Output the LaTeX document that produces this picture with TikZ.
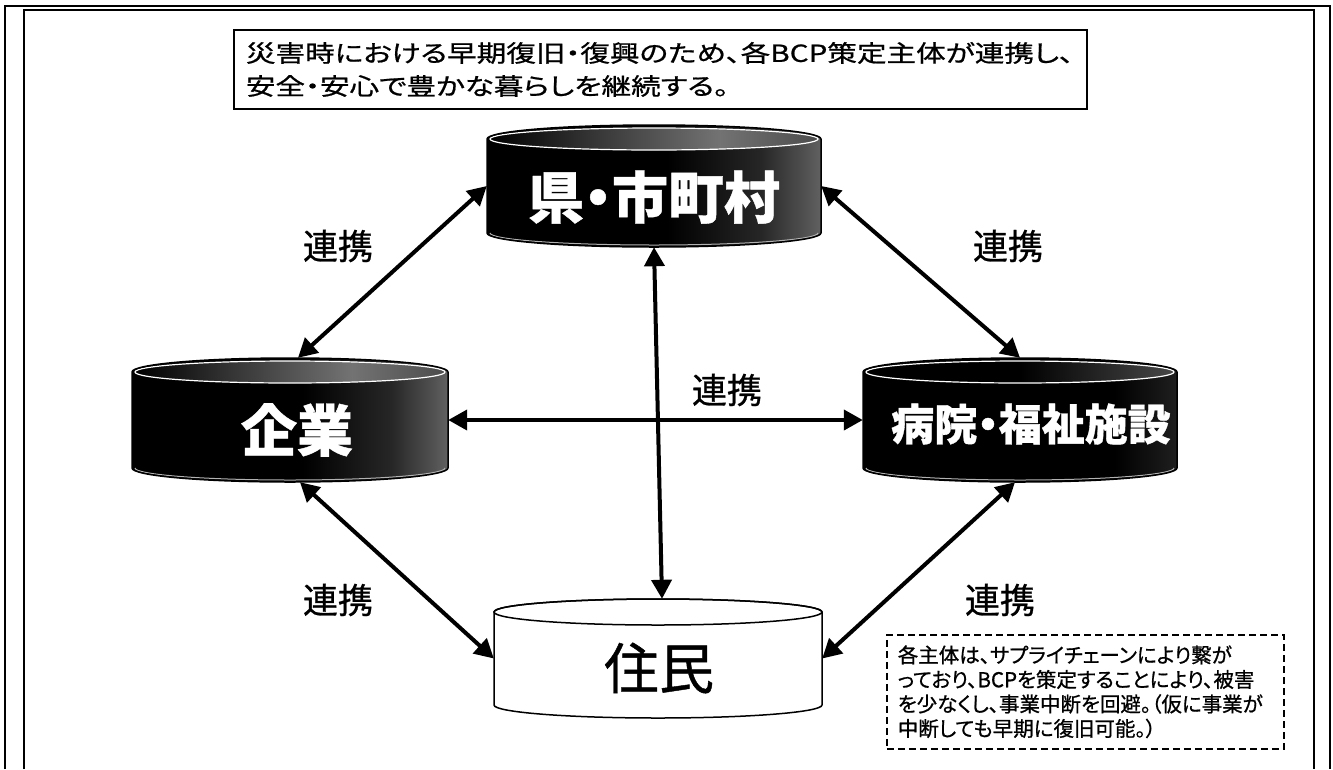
\documentclass[tikz,border=0pt]{standalone}
\usepackage{fontspec}
\setmainfont{Noto Sans CJK JP}[RawFeature=+palt,FakeBold=0.8]
\newfontfamily\jpwide{Noto Sans CJK JP}[FakeStretch=1.26,RawFeature=+palt,FakeBold=0.8]
\usetikzlibrary{arrows.meta}
\pgfdeclarehorizontalshading{cylbodyA}{100bp}{color(0bp)=(black); color(25bp)=(black); color(52bp)=(black); color(66bp)=(black!85); color(75bp)=(black!62); color(100bp)=(black!62)}
\pgfdeclarehorizontalshading{cyltopA}{100bp}{color(0bp)=(black); color(25bp)=(black); color(40bp)=(black!80); color(60bp)=(black!55); color(75bp)=(black!70); color(100bp)=(black!70)}
\pgfdeclarehorizontalshading{cylbodyB}{100bp}{color(0bp)=(black); color(25bp)=(black); color(65bp)=(black); color(75bp)=(black!88); color(100bp)=(black!88)}
\pgfdeclarehorizontalshading{cyltopB}{100bp}{color(0bp)=(black); color(25bp)=(black); color(50bp)=(black); color(75bp)=(black!72); color(100bp)=(black!72)}
% x1 x2 ytop ybottom ry bodyshading topshading
\newcommand\darkcyl[7]{%
  \pgfmathsetmacro\cylcx{(#1+#2)/2}\pgfmathsetmacro\cylrx{(#2-#1)/2}%
  \shade[shading=#6] (#1,#3) -- (#1,#4) arc[start angle=180,end angle=0,x radius=\cylrx,y radius=#5] -- (#2,#3) arc[start angle=0,end angle=-180,x radius=\cylrx,y radius=#5] -- cycle;
  \shade[shading=#7] (\cylcx,#3) ellipse[x radius=\cylrx-3,y radius=#5-3];
  \draw[white,line width=1.2pt] (\cylcx,#3) ellipse[x radius=\cylrx-3,y radius=#5-3];
  \draw[white!70!black,line width=1pt] (#1+3,#4) arc[start angle=180,end angle=0,x radius=\cylrx-3,y radius=#5-2];
  \draw[line width=1.5pt] (#1,#3) -- (#1,#4) arc[start angle=180,end angle=0,x radius=\cylrx,y radius=#5] -- (#2,#3) arc[start angle=0,end angle=-180,x radius=\cylrx,y radius=#5] -- cycle;
}
\newcommand\whitecyl[5]{%
  \pgfmathsetmacro\cylcx{(#1+#2)/2}\pgfmathsetmacro\cylrx{(#2-#1)/2}%
  \draw[line width=1.5pt,fill=white] (#1,#3) -- (#1,#4) arc[start angle=180,end angle=0,x radius=\cylrx,y radius=#5] -- (#2,#3) arc[start angle=0,end angle=-180,x radius=\cylrx,y radius=#5] -- cycle;
  \draw[line width=1.5pt] (\cylcx,#3) ellipse[x radius=\cylrx,y radius=#5];
}
\tikzset{
  area/.style={draw=none,rectangle,inner sep=0pt},
  conn/.style={line width=4pt,{Triangle[length=19pt,width=20pt]}-{Triangle[length=19pt,width=20pt]}},
  lbl/.style={font=\fontsize{35}{40}\selectfont,inner sep=0pt},
  cyltext/.style={text=white,font=\bfseries\fontsize{56}{60}\selectfont,inner sep=0pt},
}
\begin{document}
\begin{tikzpicture}[x=1pt,y=-1pt]
\useasboundingbox (0,0) rectangle (1333,769);
\fill[white] (0,0) rectangle (1333,769);
% frames
\draw[line width=2pt] (5,769) -- (5,6) -- (1330,6) -- (1330,769);
\draw[line width=2pt] (24,769) -- (24,10) -- (1314,10) -- (1314,769);
% goal box
\node[draw,line width=1.8pt,anchor=north west,minimum width=853pt,minimum height=79pt,text width=829pt,inner xsep=12pt,align=left,font=\jpwide\fontsize{23.5}{33}\selectfont] (goal) at (233,29)
  {災害時における早期復旧・復興のため、各BCP策定主体が連携し、\\安全・安心で豊かな暮らしを継続する。};
% cylinders
\darkcyl{487}{821}{139}{233}{14}{cylbodyA}{cyltopA}
\darkcyl{132}{448}{372}{468}{14}{cylbodyA}{cyltopA}
\darkcyl{863}{1177}{372}{468}{14}{cylbodyB}{cyltopB}
\whitecyl{494}{822}{612}{705}{13}
\node[area,minimum width=334pt,minimum height=122pt] (ken) at (654,186) {};
\node[area,minimum width=316pt,minimum height=124pt] (kigyo) at (290,420) {};
\node[area,minimum width=314pt,minimum height=124pt] (byoin) at (1020,420) {};
\node[area,minimum width=328pt,minimum height=119pt] (jumin) at (658,658.5) {};
\node[cyltext] (kentext) at (654,197) {県・市町村};
\node[cyltext] (kigyotext) at (297,430) {企業};
\node[cyltext,font=\bfseries\fontsize{43}{48}\selectfont] (byointext) at (1031,424) {病院・福祉施設};
\node[inner sep=0pt,font=\fontsize{55}{60}\selectfont] (jumintext) at (659,668) {住民};
% connectors
\draw[conn] (ken.west) -- ([xshift=8pt]kigyo.north);
\draw[conn] (ken.east) -- (byoin.north);
\draw[conn] (ken.south) -- ([xshift=4pt]jumin.north);
\draw[conn] (kigyo.east) -- (byoin.west);
\draw[conn] ([xshift=10pt]kigyo.south) -- (jumin.west);
\draw[conn] ([xshift=-5pt]byoin.south) -- (jumin.east);
% labels
\node[lbl] (l1) at (338,246) {連携};
\node[lbl] (l2) at (1008,246) {連携};
\node[lbl] (l3) at (727,390) {連携};
\node[lbl] (l4) at (338,600) {連携};
\node[lbl] (l5) at (1000,600) {連携};
% note
\node[draw,dash pattern=on 7pt off 4pt,line width=1.6pt,anchor=north west,minimum width=397pt,minimum height=114pt,text width=375pt,inner xsep=11pt,align=left,font=\fontsize{20.5}{24.5}\selectfont] (note) at (886,634)
  {各主体は、サプライチェーンにより繋が\\っており、BCPを策定することにより、被害\\を少なくし、事業中断を回避。（仮に事業が\\中断しても早期に復旧可能。）};
\end{tikzpicture}
\end{document}
